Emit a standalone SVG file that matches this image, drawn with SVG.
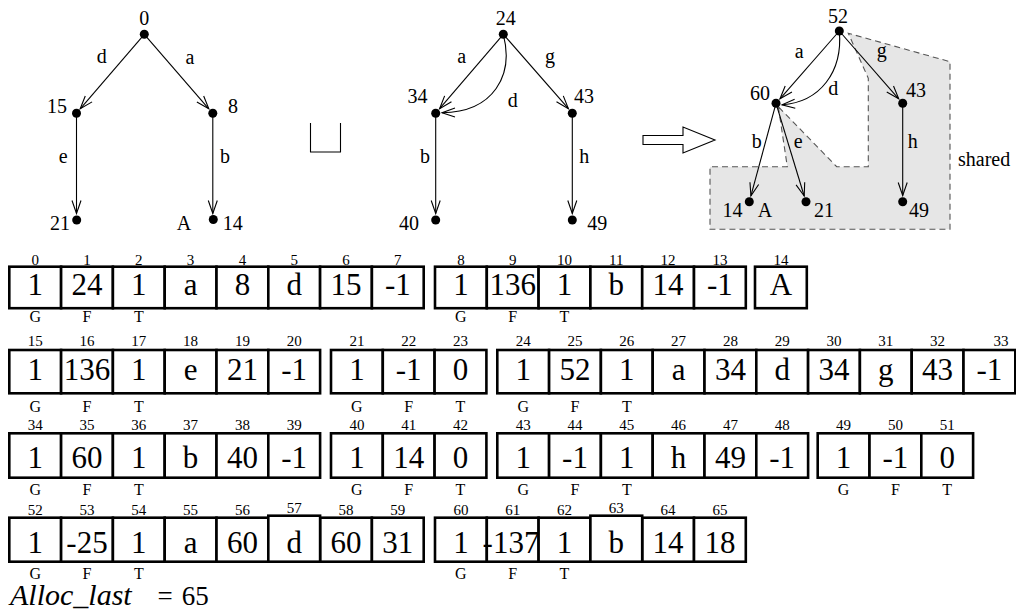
<svg xmlns="http://www.w3.org/2000/svg" width="1016" height="610" viewBox="0 0 1016 610">
<style>
.c{fill:#fff;stroke:#000;stroke-width:2.6}
.e{fill:none;stroke:#000;stroke-width:1.1}
</style>
<rect width="1016" height="610" fill="#fff"/>

<polygon id="shared-region" points="778.3,106.7 787.3,166.7 710,166.7 710,229.3 950,229.3 950,61.7 848.3,33.3 868.3,78.3 868.3,166.7 836.7,166.7" fill="#e6e6e6" stroke="#555" stroke-width="1.1" stroke-dasharray="6,4"/>
<text font-family="Liberation Serif" font-size="20" x="958" y="166">shared</text>

<path id="union" d="M310.5,123 V152 H340.5 V123" fill="none" stroke="#000" stroke-width="1.1"/>
<polygon id="implies" points="643,135.5 683,135.5 683,127 715,140 683,153 683,144.5 643,144.5" fill="#fff" stroke="#000" stroke-width="1.1"/>

<g id="connectors">
<line class="e" x1="144.3" y1="34.3" x2="80.2" y2="108.8"/><path class="e" d="M85.27,96.02 L80.2,108.8 L92.09,101.88"/>
<line class="e" x1="144.3" y1="34.3" x2="208.8" y2="108.8"/><path class="e" d="M196.88,101.92 L208.8,108.8 L203.68,96.02"/>
<line class="e" x1="76.5" y1="113.3" x2="76.5" y2="213.5"/><path class="e" d="M72,200.5 L76.5,213.5 L81,200.5"/>
<line class="e" x1="212.8" y1="113.3" x2="212.8" y2="213.5"/><path class="e" d="M208.3,200.5 L212.8,213.5 L217.3,200.5"/>
<line class="e" x1="503.3" y1="34.3" x2="439.6" y2="108.7"/><path class="e" d="M444.63,95.89 L439.6,108.7 L451.47,101.75"/>
<line class="e" x1="503.3" y1="34.3" x2="568.4" y2="108.7"/><path class="e" d="M556.5,101.82 L568.4,108.7 L563.3,95.92"/>
<path class="e" d="M503.3,34.3 C514,75 494,112 442,112.8"/><path class="e" d="M455,108.1 L442,112.8 L455,117.1"/>
<line class="e" x1="435.7" y1="113.3" x2="435.7" y2="213.5"/><path class="e" d="M431.2,200.5 L435.7,213.5 L440.2,200.5"/>
<line class="e" x1="572.3" y1="113.3" x2="572.3" y2="213.5"/><path class="e" d="M567.8,200.5 L572.3,213.5 L576.8,200.5"/>
<line class="e" x1="839.3" y1="31" x2="780" y2="98.8"/><path class="e" d="M785.19,86.05 L780,98.8 L791.95,91.99"/>
<line class="e" x1="839.3" y1="31" x2="898.7" y2="98.8"/><path class="e" d="M886.75,91.99 L898.7,98.8 L893.51,86.05"/>
<path class="e" d="M839.3,31 C843,72 820,102 782,104.8"/><path class="e" d="M794.63,99.35 L782,104.8 L795.29,108.33"/>
<line class="e" x1="776" y1="103.3" x2="750.9" y2="195.9"/><path class="e" d="M749.97,182.18 L750.9,195.9 L758.65,184.54"/>
<line class="e" x1="776" y1="103.3" x2="804.2" y2="196"/><path class="e" d="M796.09,184.87 L804.2,196 L804.71,182.25"/>
<line class="e" x1="902.7" y1="103.3" x2="902.7" y2="195.5"/><path class="e" d="M898.2,182.5 L902.7,195.5 L907.2,182.5"/>
<g font-size="20" text-anchor="middle">
<text font-family="Liberation Serif" x="101.7" y="63">d</text>
<text font-family="Liberation Serif" x="190" y="64">a</text>
<text font-family="Liberation Serif" x="63.3" y="163">e</text>
<text font-family="Liberation Serif" x="225" y="163">b</text>
<text font-family="Liberation Serif" x="461.7" y="63">a</text>
<text font-family="Liberation Serif" x="550" y="63">g</text>
<text font-family="Liberation Serif" x="512.7" y="107">d</text>
<text font-family="Liberation Serif" x="425" y="163">b</text>
<text font-family="Liberation Serif" x="584.3" y="163">h</text>
<text font-family="Liberation Serif" x="799.3" y="58.3">a</text>
<text font-family="Liberation Serif" x="881.7" y="57">g</text>
<text font-family="Liberation Serif" x="833.3" y="95">d</text>
<text font-family="Liberation Serif" x="756.7" y="148">b</text>
<text font-family="Liberation Serif" x="798.3" y="148">e</text>
<text font-family="Liberation Serif" x="912.7" y="148">h</text>
</g>
</g>

<g font-size="20" text-anchor="middle">
<g id="n0"><circle cx="144.3" cy="34.3" r="4.5"/><text font-family="Liberation Serif" x="144.3" y="25">0</text></g>
<g id="n15"><circle cx="76.5" cy="113.3" r="4.5"/><text font-family="Liberation Serif" x="57" y="113">15</text></g>
<g id="n8"><circle cx="212.8" cy="113.3" r="4.5"/><text font-family="Liberation Serif" x="233" y="113">8</text></g>
<g id="n21"><circle cx="76.7" cy="220" r="4.5"/><text font-family="Liberation Serif" x="60" y="230">21</text></g>
<g id="n14"><circle cx="213.3" cy="219.5" r="4.5"/><text font-family="Liberation Serif" x="184" y="230">A</text><text font-family="Liberation Serif" x="232.7" y="230">14</text></g>
<g id="n24"><circle cx="503.3" cy="34.3" r="4.5"/><text font-family="Liberation Serif" x="505.7" y="25">24</text></g>
<g id="n34"><circle cx="435.7" cy="113.3" r="4.5"/><text font-family="Liberation Serif" x="417.5" y="103">34</text></g>
<g id="n43"><circle cx="572.3" cy="113.3" r="4.5"/><text font-family="Liberation Serif" x="584" y="103">43</text></g>
<g id="n40"><circle cx="435.7" cy="220" r="4.5"/><text font-family="Liberation Serif" x="409" y="230">40</text></g>
<g id="n49"><circle cx="572.3" cy="220" r="4.5"/><text font-family="Liberation Serif" x="597.3" y="230">49</text></g>
<g id="m52"><circle cx="839.3" cy="31" r="4.5"/><text font-family="Liberation Serif" x="838" y="23.3">52</text></g>
<g id="m60"><circle cx="776" cy="103.3" r="4.5"/><text font-family="Liberation Serif" x="760" y="100">60</text></g>
<g id="m43"><circle cx="902.7" cy="103.3" r="4.5"/><text font-family="Liberation Serif" x="916" y="96.7">43</text></g>
<g id="m14"><circle cx="749.3" cy="201.7" r="4.5"/><text font-family="Liberation Serif" x="732.5" y="216.7">14</text><text font-family="Liberation Serif" x="765" y="216.7">A</text></g>
<g id="m21"><circle cx="806" cy="201.7" r="4.5"/><text font-family="Liberation Serif" x="824" y="216.7">21</text></g>
<g id="m49"><circle cx="902.7" cy="201.7" r="4.5"/><text font-family="Liberation Serif" x="919" y="216.7">49</text></g>
</g>

<g id="cells">
<g id="arr-0-7"><rect class="c" x="9.3" y="266.7" width="51.8" height="41.5"/><rect class="c" x="61.1" y="266.7" width="51.8" height="41.5"/><rect class="c" x="112.9" y="266.7" width="51.8" height="41.5"/><rect class="c" x="164.7" y="266.7" width="51.8" height="41.5"/><rect class="c" x="216.5" y="266.7" width="51.8" height="41.5"/><rect class="c" x="268.3" y="266.7" width="51.8" height="41.5"/><rect class="c" x="320.1" y="266.7" width="51.8" height="41.5"/><rect class="c" x="371.9" y="266.7" width="51.8" height="41.5"/></g>
<g id="arr-8-13"><rect class="c" x="435" y="266.7" width="51.8" height="41.5"/><rect class="c" x="486.8" y="266.7" width="51.8" height="41.5"/><rect class="c" x="538.6" y="266.7" width="51.8" height="41.5"/><rect class="c" x="590.4" y="266.7" width="51.8" height="41.5"/><rect class="c" x="642.2" y="266.7" width="51.8" height="41.5"/><rect class="c" x="694" y="266.7" width="51.8" height="41.5"/></g>
<g id="arr-14"><rect class="c" x="755" y="266.7" width="51.8" height="41.5"/></g>
<g id="arr-15-20"><rect class="c" x="9.3" y="350" width="51.8" height="43.3"/><rect class="c" x="61.1" y="350" width="51.8" height="43.3"/><rect class="c" x="112.9" y="350" width="51.8" height="43.3"/><rect class="c" x="164.7" y="350" width="51.8" height="43.3"/><rect class="c" x="216.5" y="350" width="51.8" height="43.3"/><rect class="c" x="268.3" y="350" width="51.8" height="43.3"/></g>
<g id="arr-21-23"><rect class="c" x="331" y="350" width="51.8" height="43.3"/><rect class="c" x="382.8" y="350" width="51.8" height="43.3"/><rect class="c" x="434.6" y="350" width="51.8" height="43.3"/></g>
<g id="arr-24-33"><rect class="c" x="497.3" y="350" width="51.8" height="43.3"/><rect class="c" x="549.1" y="350" width="51.8" height="43.3"/><rect class="c" x="600.9" y="350" width="51.8" height="43.3"/><rect class="c" x="652.7" y="350" width="51.8" height="43.3"/><rect class="c" x="704.5" y="350" width="51.8" height="43.3"/><rect class="c" x="756.3" y="350" width="51.8" height="43.3"/><rect class="c" x="808.1" y="350" width="51.8" height="43.3"/><rect class="c" x="859.9" y="350" width="51.8" height="43.3"/><rect class="c" x="911.7" y="350" width="51.8" height="43.3"/><rect class="c" x="963.5" y="350" width="51.8" height="43.3"/></g>
<g id="arr-34-39"><rect class="c" x="9.3" y="433.3" width="51.8" height="44.4"/><rect class="c" x="61.1" y="433.3" width="51.8" height="44.4"/><rect class="c" x="112.9" y="433.3" width="51.8" height="44.4"/><rect class="c" x="164.7" y="433.3" width="51.8" height="44.4"/><rect class="c" x="216.5" y="433.3" width="51.8" height="44.4"/><rect class="c" x="268.3" y="433.3" width="51.8" height="44.4"/></g>
<g id="arr-40-42"><rect class="c" x="331" y="433.3" width="51.8" height="44.4"/><rect class="c" x="382.8" y="433.3" width="51.8" height="44.4"/><rect class="c" x="434.6" y="433.3" width="51.8" height="44.4"/></g>
<g id="arr-43-48"><rect class="c" x="497.3" y="433.3" width="51.8" height="44.4"/><rect class="c" x="549.1" y="433.3" width="51.8" height="44.4"/><rect class="c" x="600.9" y="433.3" width="51.8" height="44.4"/><rect class="c" x="652.7" y="433.3" width="51.8" height="44.4"/><rect class="c" x="704.5" y="433.3" width="51.8" height="44.4"/><rect class="c" x="756.3" y="433.3" width="51.8" height="44.4"/></g>
<g id="arr-49-51"><rect class="c" x="817.7" y="433.3" width="51.8" height="44.4"/><rect class="c" x="869.5" y="433.3" width="51.8" height="44.4"/><rect class="c" x="921.3" y="433.3" width="51.8" height="44.4"/></g>
<g id="arr-52-59"><rect class="c" x="9.3" y="517.7" width="51.8" height="44"/><rect class="c" x="61.1" y="517.7" width="51.8" height="44"/><rect class="c" x="112.9" y="517.7" width="51.8" height="44"/><rect class="c" x="164.7" y="517.7" width="51.8" height="44"/><rect class="c" x="216.5" y="517.7" width="51.8" height="44"/><rect class="c" x="320.1" y="517.7" width="51.8" height="44"/><rect class="c" x="371.9" y="517.7" width="51.8" height="44"/><rect class="c" x="268.3" y="515.7" width="51.8" height="46"/></g>
<g id="arr-60-65"><rect class="c" x="435" y="517.7" width="51.8" height="44"/><rect class="c" x="486.8" y="517.7" width="51.8" height="44"/><rect class="c" x="538.6" y="517.7" width="51.8" height="44"/><rect class="c" x="642.2" y="517.7" width="51.8" height="44"/><rect class="c" x="694" y="517.7" width="51.8" height="44"/><rect class="c" x="590.4" y="515.7" width="51.8" height="46"/></g>
</g>

<g id="values" font-size="31" text-anchor="middle">
<text font-family="Liberation Serif" x="35.2" y="295">1</text><text font-family="Liberation Serif" x="87" y="295">24</text><text font-family="Liberation Serif" x="138.8" y="295">1</text><text font-family="Liberation Serif" x="190.6" y="295">a</text><text font-family="Liberation Serif" x="242.4" y="295">8</text><text font-family="Liberation Serif" x="294.2" y="295">d</text><text font-family="Liberation Serif" x="346" y="295">15</text><text font-family="Liberation Serif" x="397.8" y="295">-1</text>
<text font-family="Liberation Serif" x="460.9" y="295">1</text><text font-family="Liberation Serif" x="512.7" y="295">136</text><text font-family="Liberation Serif" x="564.5" y="295">1</text><text font-family="Liberation Serif" x="616.3" y="295">b</text><text font-family="Liberation Serif" x="668.1" y="295">14</text><text font-family="Liberation Serif" x="719.9" y="295">-1</text>
<text font-family="Liberation Serif" x="780.9" y="295">A</text>
<text font-family="Liberation Serif" x="35.2" y="380">1</text><text font-family="Liberation Serif" x="87" y="380">136</text><text font-family="Liberation Serif" x="138.8" y="380">1</text><text font-family="Liberation Serif" x="190.6" y="380">e</text><text font-family="Liberation Serif" x="242.4" y="380">21</text><text font-family="Liberation Serif" x="294.2" y="380">-1</text>
<text font-family="Liberation Serif" x="356.9" y="380">1</text><text font-family="Liberation Serif" x="408.7" y="380">-1</text><text font-family="Liberation Serif" x="460.5" y="380">0</text>
<text font-family="Liberation Serif" x="523.2" y="380">1</text><text font-family="Liberation Serif" x="575" y="380">52</text><text font-family="Liberation Serif" x="626.8" y="380">1</text><text font-family="Liberation Serif" x="678.6" y="380">a</text><text font-family="Liberation Serif" x="730.4" y="380">34</text><text font-family="Liberation Serif" x="782.2" y="380">d</text><text font-family="Liberation Serif" x="834" y="380">34</text><text font-family="Liberation Serif" x="885.8" y="380">g</text><text font-family="Liberation Serif" x="937.6" y="380">43</text><text font-family="Liberation Serif" x="989.4" y="380">-1</text>
<text font-family="Liberation Serif" x="35.2" y="468">1</text><text font-family="Liberation Serif" x="87" y="468">60</text><text font-family="Liberation Serif" x="138.8" y="468">1</text><text font-family="Liberation Serif" x="190.6" y="468">b</text><text font-family="Liberation Serif" x="242.4" y="468">40</text><text font-family="Liberation Serif" x="294.2" y="468">-1</text>
<text font-family="Liberation Serif" x="356.9" y="468">1</text><text font-family="Liberation Serif" x="408.7" y="468">14</text><text font-family="Liberation Serif" x="460.5" y="468">0</text>
<text font-family="Liberation Serif" x="523.2" y="468">1</text><text font-family="Liberation Serif" x="575" y="468">-1</text><text font-family="Liberation Serif" x="626.8" y="468">1</text><text font-family="Liberation Serif" x="678.6" y="468">h</text><text font-family="Liberation Serif" x="730.4" y="468">49</text><text font-family="Liberation Serif" x="782.2" y="468">-1</text>
<text font-family="Liberation Serif" x="843.6" y="468">1</text><text font-family="Liberation Serif" x="895.4" y="468">-1</text><text font-family="Liberation Serif" x="947.2" y="468">0</text>
<text font-family="Liberation Serif" x="35.2" y="553">1</text><text font-family="Liberation Serif" x="87" y="553">-25</text><text font-family="Liberation Serif" x="138.8" y="553">1</text><text font-family="Liberation Serif" x="190.6" y="553">a</text><text font-family="Liberation Serif" x="242.4" y="553">60</text><text font-family="Liberation Serif" x="294.2" y="553">d</text><text font-family="Liberation Serif" x="346" y="553">60</text><text font-family="Liberation Serif" x="397.8" y="553">31</text>
<text font-family="Liberation Serif" x="460.9" y="553">1</text><text font-family="Liberation Serif" x="511" y="553">-137</text><text font-family="Liberation Serif" x="564.5" y="553">1</text><text font-family="Liberation Serif" x="616.3" y="553">b</text><text font-family="Liberation Serif" x="668.1" y="553">14</text><text font-family="Liberation Serif" x="719.9" y="553">18</text>
</g>

<g id="indices" font-size="15" text-anchor="middle">
<text font-family="Liberation Serif" x="35.2" y="264.5">0</text><text font-family="Liberation Serif" x="87" y="264.5">1</text><text font-family="Liberation Serif" x="138.8" y="264.5">2</text><text font-family="Liberation Serif" x="190.6" y="264.5">3</text><text font-family="Liberation Serif" x="242.4" y="264.5">4</text><text font-family="Liberation Serif" x="294.2" y="264.5">5</text><text font-family="Liberation Serif" x="346" y="264.5">6</text><text font-family="Liberation Serif" x="397.8" y="264.5">7</text>
<text font-family="Liberation Serif" x="460.9" y="264.5">8</text><text font-family="Liberation Serif" x="512.7" y="264.5">9</text><text font-family="Liberation Serif" x="564.5" y="264.5">10</text><text font-family="Liberation Serif" x="616.3" y="264.5">11</text><text font-family="Liberation Serif" x="668.1" y="264.5">12</text><text font-family="Liberation Serif" x="719.9" y="264.5">13</text>
<text font-family="Liberation Serif" x="780.9" y="264.5">14</text>
<text font-family="Liberation Serif" x="35.2" y="346">15</text><text font-family="Liberation Serif" x="87" y="346">16</text><text font-family="Liberation Serif" x="138.8" y="346">17</text><text font-family="Liberation Serif" x="190.6" y="346">18</text><text font-family="Liberation Serif" x="242.4" y="346">19</text><text font-family="Liberation Serif" x="294.2" y="346">20</text>
<text font-family="Liberation Serif" x="356.9" y="346">21</text><text font-family="Liberation Serif" x="408.7" y="346">22</text><text font-family="Liberation Serif" x="460.5" y="346">23</text>
<text font-family="Liberation Serif" x="523.2" y="346">24</text><text font-family="Liberation Serif" x="575" y="346">25</text><text font-family="Liberation Serif" x="626.8" y="346">26</text><text font-family="Liberation Serif" x="678.6" y="346">27</text><text font-family="Liberation Serif" x="730.4" y="346">28</text><text font-family="Liberation Serif" x="782.2" y="346">29</text><text font-family="Liberation Serif" x="834" y="346">30</text><text font-family="Liberation Serif" x="885.8" y="346">31</text><text font-family="Liberation Serif" x="937.6" y="346">32</text><text font-family="Liberation Serif" x="1001" y="346">33</text>
<text font-family="Liberation Serif" x="35.2" y="429.5">34</text><text font-family="Liberation Serif" x="87" y="429.5">35</text><text font-family="Liberation Serif" x="138.8" y="429.5">36</text><text font-family="Liberation Serif" x="190.6" y="429.5">37</text><text font-family="Liberation Serif" x="242.4" y="429.5">38</text><text font-family="Liberation Serif" x="294.2" y="429.5">39</text>
<text font-family="Liberation Serif" x="356.9" y="429.5">40</text><text font-family="Liberation Serif" x="408.7" y="429.5">41</text><text font-family="Liberation Serif" x="460.5" y="429.5">42</text>
<text font-family="Liberation Serif" x="523.2" y="429.5">43</text><text font-family="Liberation Serif" x="575" y="429.5">44</text><text font-family="Liberation Serif" x="626.8" y="429.5">45</text><text font-family="Liberation Serif" x="678.6" y="429.5">46</text><text font-family="Liberation Serif" x="730.4" y="429.5">47</text><text font-family="Liberation Serif" x="782.2" y="429.5">48</text>
<text font-family="Liberation Serif" x="843.6" y="429.5">49</text><text font-family="Liberation Serif" x="895.4" y="429.5">50</text><text font-family="Liberation Serif" x="947.2" y="429.5">51</text>
<text font-family="Liberation Serif" x="35.2" y="514.5">52</text><text font-family="Liberation Serif" x="87" y="514.5">53</text><text font-family="Liberation Serif" x="138.8" y="514.5">54</text><text font-family="Liberation Serif" x="190.6" y="514.5">55</text><text font-family="Liberation Serif" x="242.4" y="514.5">56</text><text font-family="Liberation Serif" x="294.2" y="513">57</text><text font-family="Liberation Serif" x="346" y="514.5">58</text><text font-family="Liberation Serif" x="397.8" y="514.5">59</text>
<text font-family="Liberation Serif" x="460.9" y="514.5">60</text><text font-family="Liberation Serif" x="512.7" y="514.5">61</text><text font-family="Liberation Serif" x="564.5" y="514.5">62</text><text font-family="Liberation Serif" x="616.3" y="513">63</text><text font-family="Liberation Serif" x="668.1" y="514.5">64</text><text font-family="Liberation Serif" x="719.9" y="514.5">65</text>
</g>

<g id="gft" font-size="16" text-anchor="middle">
<text font-family="Liberation Serif" x="35.2" y="322">G</text><text font-family="Liberation Serif" x="87" y="322">F</text><text font-family="Liberation Serif" x="138.8" y="322">T</text>
<text font-family="Liberation Serif" x="460.9" y="322">G</text><text font-family="Liberation Serif" x="512.7" y="322">F</text><text font-family="Liberation Serif" x="564.5" y="322">T</text>
<text font-family="Liberation Serif" x="35.2" y="411.7">G</text><text font-family="Liberation Serif" x="87" y="411.7">F</text><text font-family="Liberation Serif" x="138.8" y="411.7">T</text>
<text font-family="Liberation Serif" x="356.9" y="411.7">G</text><text font-family="Liberation Serif" x="408.7" y="411.7">F</text><text font-family="Liberation Serif" x="460.5" y="411.7">T</text>
<text font-family="Liberation Serif" x="523.2" y="411.7">G</text><text font-family="Liberation Serif" x="575" y="411.7">F</text><text font-family="Liberation Serif" x="626.8" y="411.7">T</text>
<text font-family="Liberation Serif" x="35.2" y="495">G</text><text font-family="Liberation Serif" x="87" y="495">F</text><text font-family="Liberation Serif" x="138.8" y="495">T</text>
<text font-family="Liberation Serif" x="356.9" y="495">G</text><text font-family="Liberation Serif" x="408.7" y="495">F</text><text font-family="Liberation Serif" x="460.5" y="495">T</text>
<text font-family="Liberation Serif" x="523.2" y="495">G</text><text font-family="Liberation Serif" x="575" y="495">F</text><text font-family="Liberation Serif" x="626.8" y="495">T</text>
<text font-family="Liberation Serif" x="843.6" y="495">G</text><text font-family="Liberation Serif" x="895.4" y="495">F</text><text font-family="Liberation Serif" x="947.2" y="495">T</text>
<text font-family="Liberation Serif" x="35.2" y="579">G</text><text font-family="Liberation Serif" x="87" y="579">F</text><text font-family="Liberation Serif" x="138.8" y="579">T</text>
<text font-family="Liberation Serif" x="460.9" y="579">G</text><text font-family="Liberation Serif" x="512.7" y="579">F</text><text font-family="Liberation Serif" x="564.5" y="579">T</text>
</g>

<g id="alloc">
<text font-family="Liberation Serif" x="10" y="605" font-size="30" font-style="italic">Alloc_last</text>
<text font-family="Liberation Serif" x="165" y="605" font-size="27" text-anchor="middle">=</text>
<text font-family="Liberation Serif" x="181.7" y="605" font-size="27">65</text>
</g>
</svg>
